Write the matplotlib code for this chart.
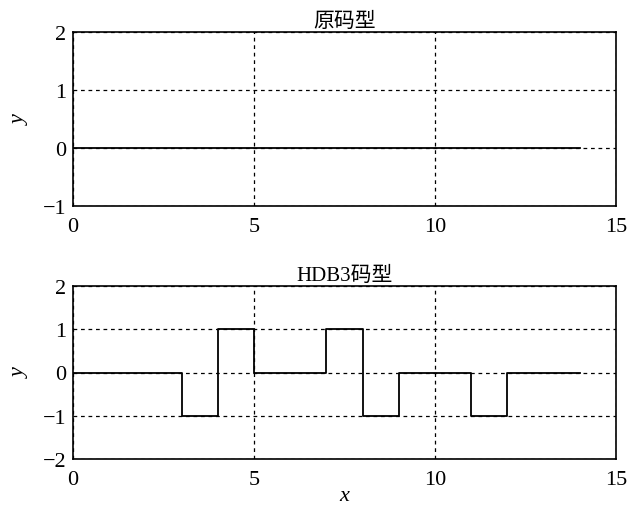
import numpy as np
import matplotlib
matplotlib.use("Agg")
import matplotlib.pyplot as plt

plt.rcParams['font.family'] = ['Liberation Serif', 'Noto Sans CJK SC']
plt.rcParams['font.size'] = 16

# 原码 (all zeros) and HDB3 code, one value per bit
bits = np.arange(14)
orig_code = [0, 0, 0, 0, 0, 0, 0, 0, 0, 0, 0, 0, 0, 0]
hdb3_code = [0, 0, 0, -1, 1, 0, 0, 1, -1, 0, 0, -1, 0, 0]
xticks = [0, 5, 10, 15]

fig = plt.figure(figsize=(6.3, 5.1), dpi=100)
ax1 = fig.add_axes([73/630, 1 - 207/510, 543/630, 174/510])
ax2 = fig.add_axes([73/630, 1 - 460/510, 543/630, 173/510])


def draw(ax, code, ylim, yticks, title):
    x = np.append(bits, bits[-1] + 1)
    y = np.append(code, code[-1])
    ax.plot(x, y, color='black', lw=1.3, drawstyle='steps-post', zorder=3)
    ax.set_xlim(0, 15)
    ax.set_ylim(*ylim)
    ax.set_xticks(xticks)
    ax.set_yticks(yticks)
    ax.grid(True, color='black', linestyle=(0, (3, 3)), lw=0.9)
    ax.tick_params(axis='x', length=0, pad=8)
    ax.tick_params(axis='y', length=0, pad=5)
    for s in ax.spines.values():
        s.set_linewidth(1.2)
    ax.set_title(title, fontsize=15, pad=4)
    ax.set_ylabel('y', style='italic')
    ax.yaxis.set_label_coords(-0.08, 0.5)


draw(ax1, orig_code, (-1, 2), [-1, 0, 1, 2], '原码型')
draw(ax2, hdb3_code, (-2, 2), [-2, -1, 0, 1, 2], 'HDB3码型')
ax2.set_xlabel('x', style='italic')
ax2.xaxis.set_label_coords(0.5, -0.155)

fig.savefig('out.png', dpi=100)
